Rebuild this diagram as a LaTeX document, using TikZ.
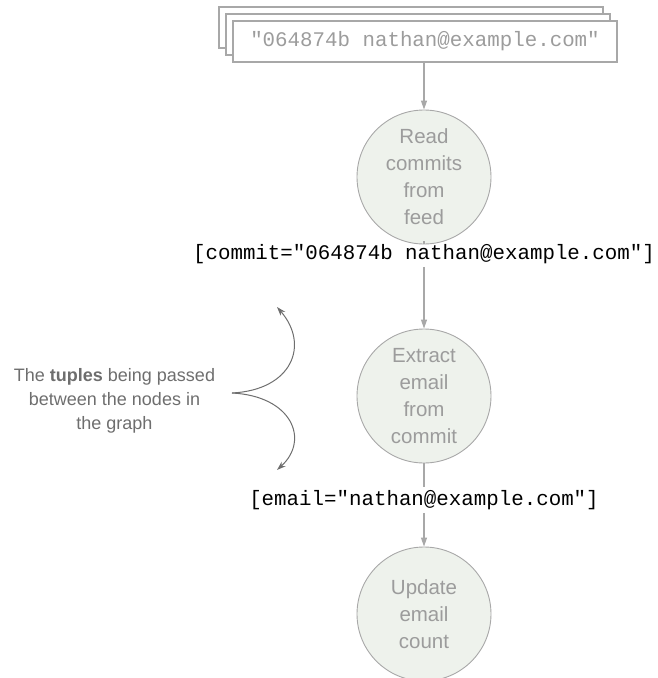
\documentclass[tikz,border=0pt]{standalone}
\usepackage{fontspec}
\setmainfont{Liberation Sans}
\setmonofont{Liberation Mono}
\usepackage{tikz}
\usepackage{xcolor}
\usetikzlibrary{shapes.geometric, arrows.meta, positioning, calc}

\definecolor{linegray}{HTML}{A8A8A8}
\definecolor{textgray}{HTML}{9C9C9C}
\definecolor{notegray}{HTML}{6E6E6E}
\definecolor{boltfill}{HTML}{EEF2EC}

\tikzset{
  feedbox/.style={draw=linegray, fill=white, line width=1.2pt, minimum width=384pt, minimum height=41pt, inner sep=0pt},
  bolt/.style={circle, draw=linegray, fill=boltfill, line width=0.9pt, minimum size=134pt, inner sep=0pt, align=center, text=textgray, font=\fontsize{20.5}{27}\selectfont},
  tuple/.style={font=\ttfamily\fontsize{20.8}{24}\selectfont, inner sep=3pt},
  flow/.style={draw=linegray, line width=1.2pt},
  flowarrow/.style={flow, -{Triangle[length=9pt, width=6pt]}},
  note/.style={align=center, text=notegray, font=\fontsize{18}{24}\selectfont},
  notearrow/.style={draw=notegray, line width=1pt, -{Stealth[length=9pt, width=6pt]}}
}

\begin{document}
\begin{tikzpicture}[x=1pt, y=-1pt]
\useasboundingbox (0,0) rectangle (658,678);

% Stack of commits
\node[feedbox] (back1) at (411,27.5) {};
\node[feedbox] (back2) at (418,34.5) {};
\node[feedbox, font=\ttfamily\fontsize{20.8}{24}\selectfont, text=textgray] (feed) at (425,41.5) {"064874b nathan@example.com"};

% Topology
\node[bolt] (read) at (424,177) {Read\\commits\\from\\feed};
\node[tuple] (commit) at (424,254) {[commit="064874b nathan@example.com"]};
\node[bolt] (extract) at (424,396) {Extract\\email\\from\\commit};
\node[tuple] (email) at (424,500) {[email="nathan@example.com"]};
\node[bolt] (update) at (424,614) {Update\\email\\count};

\draw[flowarrow] (feed.south -| read.north) -- (read.north);
\draw[flow] (read.south) -- (commit.north);
\draw[flowarrow] (commit.south) -- (extract.north);
\draw[flow] (extract.south) -- (email.north);
\draw[flowarrow] (email.south) -- (update.north);

% Annotation
\node[note] (tuples) at (114.5,401) {The \textbf{tuples} being passed\\between the nodes in\\the graph};
\coordinate (brace) at (232,393);
\coordinate (up) at (277,307);
\coordinate (down) at (277,470);
\draw[notearrow] (brace) .. controls (292,390) and (310,345) .. (up);
\draw[notearrow] (brace) .. controls (292,396) and (310,440) .. (down);
\end{tikzpicture}
\end{document}
